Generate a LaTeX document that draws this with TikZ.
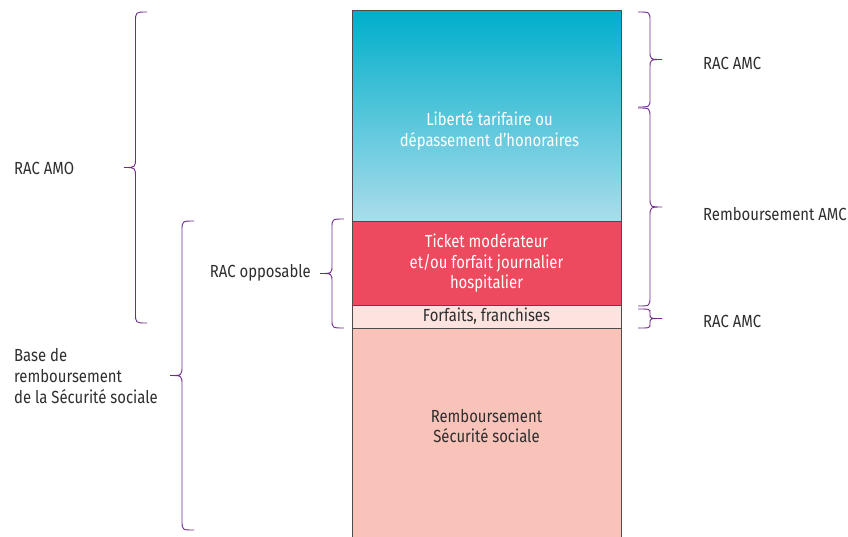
\documentclass[tikz,border=0pt]{standalone}
\usepackage{fontspec}
\setmainfont{Fira Sans}[FakeStretch=0.85]
\usetikzlibrary{positioning,calc}
\definecolor{brcpurple}{HTML}{6E2C8C}
\definecolor{txtgray}{HTML}{2E2E2E}
\definecolor{cyantop}{HTML}{00AECB}
\definecolor{cyanbot}{HTML}{AADDEB}
\definecolor{tmred}{HTML}{EE4A5F}
\definecolor{paleros}{HTML}{FDE3E0}
\definecolor{salmon}{HTML}{F9C3BA}

% vertical curly brace: #1 top end, #2 bottom end, #3 depth (negative points left), #4 curl radius
\newcommand\vbrc[4]{%
  \draw[brcline] let \p1=(#1), \p2=(#2), \n1={#3/2}, \n2={(\y1+\y2)/2} in
    (\p1) .. controls (\x1+\n1*1pt,\y1) .. (\x1+\n1*1pt,\y1-#4)
    -- (\x1+\n1*1pt,\n2*1pt+#4) .. controls (\x1+\n1*1pt,\n2*1pt) .. (\x1+#3,\n2*1pt)
    .. controls (\x1+\n1*1pt,\n2*1pt) .. (\x1+\n1*1pt,\n2*1pt-#4)
    -- (\x1+\n1*1pt,\y2+#4) .. controls (\x1+\n1*1pt,\y2) .. (\p2);}

\begin{document}
\begin{tikzpicture}[
  x=1pt,y=-1pt,
  font=\fontsize{17.5}{20.8}\selectfont,
  seg/.style={draw=black!70,line width=0.6pt,minimum width=269pt,outer sep=0pt,
    inner sep=0pt,align=center,anchor=north},
  intxt/.style={align=center,inner sep=0pt},
  lbl/.style={text=txtgray,align=left,inner sep=0pt},
  brcline/.style={draw=brcpurple,line width=0.9pt},
]
\useasboundingbox (0,0) rectangle (848,536);

% stacked column
\node[seg,minimum height=211pt,top color=cyantop,bottom color=cyanbot]
  (lib) at (486.5,10) {};
\node[seg,minimum height=84pt,fill=tmred,text=white,below=0pt of lib]
  (tick) {Ticket modérateur\\et/ou forfait journalier\\hospitalier};
\node[seg,minimum height=23pt,fill=paleros,text=txtgray,below=0pt of tick]
  (forf) {Forfaits, franchises};
\node[seg,minimum height=212pt,fill=salmon,below=0pt of forf] (remb) {};
\node[intxt,text=white] (libtxt) at ($(lib.center)+(3,15)$)
  {Liberté tarifaire ou\\dépassement d'honoraires};
\node[intxt,text=txtgray] (rembtxt) at ($(remb.center)+(0,-8)$)
  {Remboursement\\Sécurité sociale};

% left braces
\coordinate (amoT) at ($(lib.north west)+(-205,2)$);
\coordinate (amoB) at ($(forf.south west)+(-205,-5)$);
\vbrc{amoT}{amoB}{-23pt}{10pt}
\node[lbl,anchor=west] (amoL) at (14,168) {RAC AMO};

\coordinate (baseT) at ($(tick.north west)+(-158,0)$);
\coordinate (baseB) at (194,530);
\vbrc{baseT}{baseB}{-24pt}{10pt}
\node[lbl,anchor=west] (baseL) at (14,376) {Base de\\remboursement\\de la Sécurité sociale};

\coordinate (oppT) at ($(tick.north west)+(-8,-2)$);
\coordinate (oppB) at ($(forf.south west)+(-8,0)$);
\vbrc{oppT}{oppB}{-24pt}{9pt}
\node[lbl,anchor=east] (oppL) at (311,273) {RAC opposable};

% right braces
\coordinate (amc1T) at ($(lib.north east)+(17,2)$);
\coordinate (amc1B) at ($(lib.north east)+(17,97)$);
\vbrc{amc1T}{amc1B}{24pt}{9pt}
\node[lbl,anchor=west] (amc1L) at (703,63) {RAC AMC};

\coordinate (rambT) at ($(lib.north east)+(17,98)$);
\coordinate (rambB) at ($(tick.south east)+(17,1)$);
\vbrc{rambT}{rambB}{24pt}{10pt}
\node[lbl,anchor=west] (rambL) at (703,214) {Remboursement AMC};

\coordinate (amc2T) at ($(forf.north east)+(17,4)$);
\coordinate (amc2B) at ($(forf.south east)+(17,0)$);
\vbrc{amc2T}{amc2B}{24pt}{4pt}
\node[lbl,anchor=west] (amc2L) at (703,321) {RAC AMC};
\end{tikzpicture}
\end{document}
